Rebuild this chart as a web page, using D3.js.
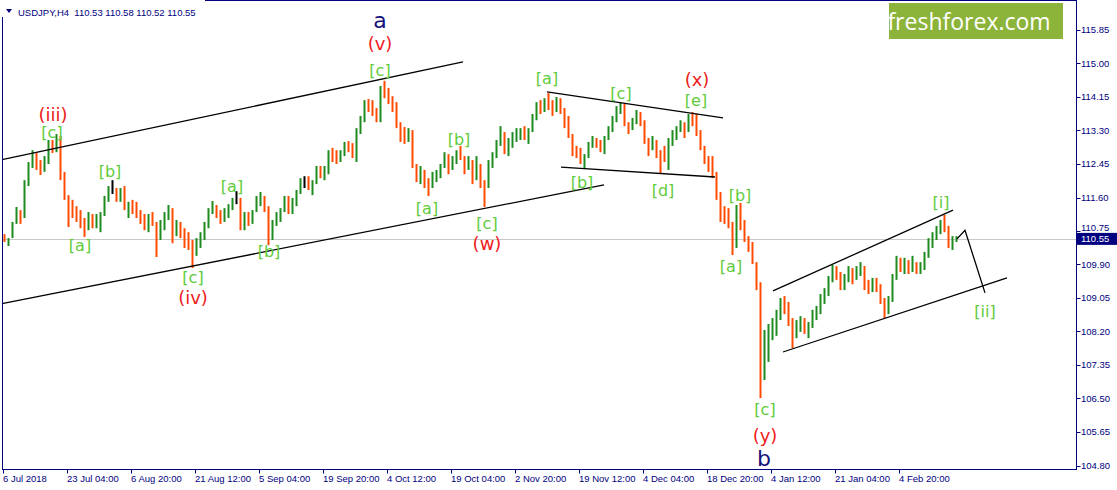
<!DOCTYPE html>
<html><head><meta charset="utf-8">
<script src="https://cdn.jsdelivr.net/npm/d3@7/dist/d3.min.js"></script>
<style>
html,body{margin:0;padding:0;background:#fff;}
svg{display:block;}
text{font-family:"Liberation Sans",Arial,sans-serif;}
</style></head>
<body>
<svg id="chart" width="1117" height="490"></svg>
<script>
// ---- DATA (USDJPY H4, each entry = 4 consecutive H4 bars) ----
const symbolTitle = "USDJPY,H4  110.53 110.58 110.52 110.55";
const lastPrice = 110.55;
const firstOpen = 110.60;
const highs = [110.67,110.57,110.98,111.36,111.28,112.04,112.50,112.80,112.75,112.55,112.65,113.06,113.06,113.21,113.16,112.25,111.66,111.54,111.38,111.28,
111.08,111.23,111.18,111.18,111.23,111.64,111.89,112.04,111.84,111.84,111.89,111.49,111.54,111.49,111.28,111.18,111.18,111.23,110.98,111.03,
111.23,111.41,111.33,111.03,110.98,110.82,110.72,110.52,110.57,110.72,110.98,111.33,111.51,111.41,111.28,111.33,111.43,111.59,111.76,111.59,
111.23,111.23,111.28,111.64,111.74,111.64,111.38,111.03,111.23,111.33,111.64,111.64,111.59,111.79,112.09,112.14,112.14,112.04,112.40,112.40,
112.40,112.80,112.86,112.80,112.80,113.01,113.03,112.98,113.36,113.67,114.07,114.10,114.07,113.87,114.43,114.56,114.38,114.17,114.02,113.51,
113.39,113.36,113.31,112.45,112.40,112.30,112.09,112.25,112.30,112.45,112.75,112.70,112.65,112.80,112.91,112.65,112.65,112.55,112.65,112.45,
112.04,112.55,112.75,113.06,113.41,113.26,113.11,113.26,113.36,113.36,113.41,113.36,113.72,114.02,114.07,114.12,114.25,114.07,114.15,114.12,
113.87,113.67,113.21,112.91,112.86,112.70,113.01,113.16,113.11,113.06,113.16,113.41,113.67,113.92,114.02,113.97,113.51,113.62,113.82,113.77,
113.56,113.11,113.16,113.06,112.80,112.91,113.11,113.31,113.41,113.56,113.51,113.72,113.77,113.72,113.31,112.91,112.65,112.65,112.25,111.74,
111.38,111.33,110.98,111.41,111.46,111.03,110.62,110.47,109.96,109.45,108.24,108.39,108.54,108.75,109.05,109.10,108.95,108.54,108.49,108.59,
108.54,108.44,108.75,108.85,109.15,109.30,109.61,109.89,109.86,109.71,109.66,109.86,109.81,109.86,109.96,109.86,109.51,109.56,109.56,109.40,
109.05,109.10,109.66,110.12,110.07,110.07,110.01,110.12,109.96,109.96,110.22,110.57,110.72,110.88,111.03,111.16,110.88,110.62,110.62];
const lows = [110.47,110.37,110.57,110.93,110.93,111.08,111.89,112.35,112.30,112.17,112.25,112.45,112.73,112.75,112.04,111.54,110.85,111.08,110.98,110.82,
110.60,110.77,110.82,110.82,110.72,111.13,111.49,111.69,111.49,111.49,111.28,111.08,111.18,111.08,110.93,110.77,110.72,110.88,110.09,110.52,
110.77,111.03,110.44,110.62,110.57,110.32,110.27,109.81,110.12,110.32,110.52,110.82,111.18,111.08,110.93,110.98,111.08,111.28,111.43,110.77,
110.77,110.88,110.93,111.23,111.38,111.23,110.39,110.52,110.88,110.98,111.23,111.18,111.18,111.38,111.69,111.84,111.79,111.66,111.94,112.09,
112.04,112.19,112.50,112.45,112.50,112.65,112.75,112.60,112.50,113.21,113.51,113.77,113.67,113.51,113.51,114.12,113.97,113.77,113.36,113.01,
112.96,113.01,112.35,111.99,111.94,111.84,111.64,111.84,111.99,112.09,112.35,112.19,112.30,112.45,112.55,112.19,112.30,111.94,112.04,111.84,
111.36,111.84,112.35,112.60,112.91,112.70,112.65,112.86,113.01,113.06,113.06,112.96,113.26,113.56,113.72,113.77,113.82,113.67,113.77,113.72,
113.36,113.11,112.65,112.60,112.45,112.35,112.60,112.86,112.86,112.75,112.70,113.06,113.26,113.51,113.72,113.41,113.21,113.31,113.46,113.41,
112.96,112.65,112.80,112.60,112.22,112.50,112.30,112.91,113.06,113.26,113.11,113.26,113.41,113.16,112.80,112.45,112.25,112.09,111.54,110.98,
110.93,110.82,110.14,110.32,110.77,110.47,110.22,109.91,109.25,106.51,106.97,107.43,107.98,108.09,108.49,108.64,108.34,107.78,108.03,108.19,
108.14,108.03,108.29,108.49,108.64,108.90,109.10,109.45,109.51,109.25,109.25,109.45,109.40,109.51,109.61,109.25,109.15,109.20,109.20,108.90,
108.54,108.64,108.95,109.51,109.71,109.66,109.66,109.71,109.66,109.66,109.76,110.07,110.32,110.52,110.67,110.72,110.32,110.27,110.47];
const closes = [110.52,110.62,110.93,111.23,111.13,111.94,112.40,112.65,112.40,112.30,112.50,112.91,112.80,113.11,112.14,111.64,111.28,111.23,111.18,110.93,
110.82,111.08,110.98,111.03,111.18,111.54,111.79,111.79,111.64,111.74,111.33,111.38,111.33,111.23,111.08,110.93,111.08,110.93,110.62,110.88,
111.13,111.28,110.82,110.88,110.77,110.62,110.42,110.22,110.42,110.62,110.88,111.23,111.33,111.23,111.13,111.23,111.38,111.54,111.54,110.98,
111.08,111.03,111.18,111.54,111.59,111.33,110.62,110.93,111.13,111.23,111.54,111.38,111.43,111.74,111.99,111.99,111.89,111.99,112.30,112.25,
112.30,112.70,112.65,112.60,112.75,112.91,112.86,112.70,113.26,113.56,113.97,113.87,113.77,113.62,114.33,114.28,114.12,113.97,113.46,113.21,
113.11,113.26,112.45,112.19,112.25,112.04,111.94,112.14,112.19,112.35,112.65,112.40,112.55,112.70,112.60,112.40,112.50,112.09,112.50,111.94,
111.89,112.40,112.65,112.96,113.26,112.86,113.01,113.16,113.21,113.26,113.16,113.31,113.62,113.92,113.87,114.02,113.97,113.82,114.07,113.82,
113.46,113.21,112.80,112.75,112.55,112.65,112.91,113.06,112.96,112.86,113.06,113.31,113.56,113.82,113.92,113.51,113.36,113.51,113.72,113.56,
113.06,112.91,113.01,112.70,112.65,112.60,113.01,113.21,113.31,113.41,113.31,113.62,113.56,113.26,112.91,112.55,112.45,112.25,111.64,111.23,
111.08,110.93,110.42,111.23,110.93,110.57,110.37,110.01,109.40,107.22,107.86,108.09,108.34,108.54,108.95,108.85,108.49,108.14,108.34,108.44,
108.24,108.34,108.64,108.69,109.05,109.20,109.51,109.76,109.61,109.40,109.56,109.71,109.61,109.76,109.86,109.35,109.30,109.45,109.35,109.00,
108.69,109.00,109.56,109.96,109.86,109.96,109.76,109.96,109.81,109.86,110.12,110.47,110.62,110.77,110.93,110.82,110.42,110.52,110.55];
const barsPerCandle = 4;
const timeLabels = ["6 Jul 2018","23 Jul 04:00","6 Aug 20:00","21 Aug 12:00","5 Sep 04:00","19 Sep 20:00","4 Oct 12:00","19 Oct 04:00",
"2 Nov 20:00","19 Nov 12:00","4 Dec 04:00","18 Dec 20:00","4 Jan 12:00","21 Jan 04:00","4 Feb 20:00"];
const barsPerTimeLabel = 64;
const priceTicks = [115.85,115.00,114.15,113.30,112.45,111.60,110.75,109.90,109.05,108.20,107.35,106.50,105.65,104.80];
// trend lines: [barIndex, price] pairs
const trendLines = [
  [[-1,112.56],[460,115.04]],
  [[-1,108.91],[601,111.92]],
  [[544,114.28],[720,113.62]],
  [[558,112.37],[712,112.12]],
  [[770,109.23],[950,111.28]],
  [[780,107.68],[1004,109.56]]
];
const projection = [[954,110.55],[962,110.77],[982,109.18]];
// wave labels: text, bar, price, kind
const waveLabels = [
  ["a",377,116.10,"major"],["(v)",377,115.50,"minor"],["[c]",377,114.81,"minute"],
  ["(iii)",50,113.70,"minor"],["[c]",49,113.25,"minute"],["[b]",107,112.25,"minute"],["[a]",77,110.37,"minute"],
  ["[a]",229,111.87,"minute"],["[c]",190,109.56,"minute"],["(iv)",190,109.07,"minor"],["[b]",266,110.24,"minute"],
  ["[a]",424,111.31,"minute"],["[b]",456,113.06,"minute"],["[c]",484,110.95,"minute"],["(w)",484,110.44,"minor"],
  ["[a]",544,114.63,"minute"],["[c]",618,114.25,"minute"],["(x)",694,114.60,"minor"],["[e]",693,114.06,"minute"],
  ["[b]",579,111.97,"minute"],["[d]",660,111.79,"minute"],["[b]",737,111.64,"minute"],["[a]",728,109.86,"minute"],
  ["[c]",762,106.21,"minute"],["(y)",762,105.55,"minor"],["b",761,104.99,"major"],
  ["[i]",938,111.48,"minute"],["[ii]",982,108.72,"minute"]
];
const logoText = "freshforex.com";

// ---- DRAWING ----
const svg = d3.select("#chart");
const plotLeft = 2.5, plotRight = 1076.5, plotTop = 0.5, plotBottom = 469.5;
const x = d3.scaleLinear().domain([0, 1073]).range([3, 1076]);
const y = d3.scaleLinear().domain([104.80, 115.85]).range([465.5, 30]);
const navy = "#000080";

// current price line
svg.append("line").attr("x1", plotLeft).attr("x2", plotRight)
  .attr("y1", Math.round(y(lastPrice)) + 0.5).attr("y2", Math.round(y(lastPrice)) + 0.5)
  .attr("stroke", "#c8c8c8").attr("stroke-width", 1);

// candles
const candles = closes.map((c, i) => ({
  i, high: highs[i], low: lows[i], close: c, open: i === 0 ? firstOpen : closes[i - 1]
}));
svg.append("g").selectAll("line").data(candles).join("line")
  .attr("x1", d => x(d.i * barsPerCandle + 1.5)).attr("x2", d => x(d.i * barsPerCandle + 1.5))
  .attr("y1", d => y(d.high)).attr("y2", d => y(d.low))
  .attr("stroke", d => d.close > d.open ? "#1f8a1f" : (d.close < d.open ? "#ff4a00" : "#000"))
  .attr("stroke-width", 2);

// trend lines
const lineGen = d3.line().x(p => x(p[0])).y(p => y(p[1]));
svg.append("g").selectAll("path").data(trendLines).join("path")
  .attr("d", lineGen).attr("fill", "none").attr("stroke", "#000").attr("stroke-width", 1.3);
svg.append("path").attr("d", lineGen(projection)).attr("fill", "none")
  .attr("stroke", "#000").attr("stroke-width", 1.3);

// wave labels
const styleFor = {
  major: {fill: "#14147a", size: 22},
  minor: {fill: "#ee2020", size: 18},
  minute: {fill: "#5fcc3c", size: 16}
};
svg.append("g").selectAll("text").data(waveLabels).join("text")
  .attr("x", d => x(d[1])).attr("y", d => y(d[2]))
  .attr("text-anchor", "middle").attr("dominant-baseline", "central")
  .style("font-family", "'DejaVu Sans', Verdana, sans-serif")
  .style("font-size", d => styleFor[d[3]].size + "px")
  .attr("fill", d => styleFor[d[3]].fill)
  .text(d => d[0]);

// frame
svg.append("rect").attr("x", plotLeft).attr("y", plotTop)
  .attr("width", plotRight - plotLeft).attr("height", plotBottom - plotTop)
  .attr("fill", "none").attr("stroke", navy).attr("stroke-width", 1);

// y axis ticks & labels (skip the label hidden under the current price tag)
const ly = y(lastPrice);
const yAxisG = svg.append("g");
yAxisG.selectAll("line").data(priceTicks).join("line")
  .attr("x1", plotRight).attr("x2", plotRight + 4)
  .attr("y1", d => Math.round(y(d)) + 0.5).attr("y2", d => Math.round(y(d)) + 0.5)
  .attr("stroke", navy);
yAxisG.selectAll("text").data(priceTicks).join("text")
  .attr("x", 1081).attr("y", d => Math.abs(y(d) - ly) < 12 ? y(d) - 3 : y(d)).attr("dy", "0.35em")
  .style("font-size", "9.5px").attr("fill", navy)
  .text(d => d.toFixed(2));

// current price tag
svg.append("rect").attr("x", 1077).attr("y", ly - 6).attr("width", 40).attr("height", 12).attr("fill", navy);
svg.append("text").attr("x", 1081).attr("y", ly).attr("dy", "0.35em")
  .style("font-size", "9.5px").attr("fill", "#fff").text(lastPrice.toFixed(2));

// x axis ticks & labels
const xAxisG = svg.append("g");
xAxisG.selectAll("line").data(timeLabels).join("line")
  .attr("x1", (d, i) => Math.round(x(i * barsPerTimeLabel)) + 0.5)
  .attr("x2", (d, i) => Math.round(x(i * barsPerTimeLabel)) + 0.5)
  .attr("y1", plotBottom).attr("y2", plotBottom + 4).attr("stroke", navy);
xAxisG.selectAll("text").data(timeLabels).join("text")
  .attr("x", (d, i) => x(i * barsPerTimeLabel)).attr("y", 482)
  .style("font-size", "9.5px").attr("fill", navy).text(d => d);

// header
svg.append("rect").attr("x", 0).attr("y", 0).attr("width", 205).attr("height", 17).attr("fill", "#fff");
svg.append("path").attr("d", "M6,9 L12,9 L9,13 Z").attr("fill", navy);
svg.append("text").attr("x", 18).attr("y", 16).style("font-size", "9.5px").attr("fill", navy)
  .attr("xml:space", "preserve").text(symbolTitle);

// logo
svg.append("rect").attr("x", 889).attr("y", 3).attr("width", 174).attr("height", 36).attr("fill", "#8db43a");
svg.append("text").attr("x", 969).attr("y", 21).attr("text-anchor", "middle").attr("dominant-baseline", "central")
  .style("font-family", "'Open Sans', sans-serif").style("font-size", "23px").attr("fill", "#fff").text(logoText);
</script>
</body></html>
